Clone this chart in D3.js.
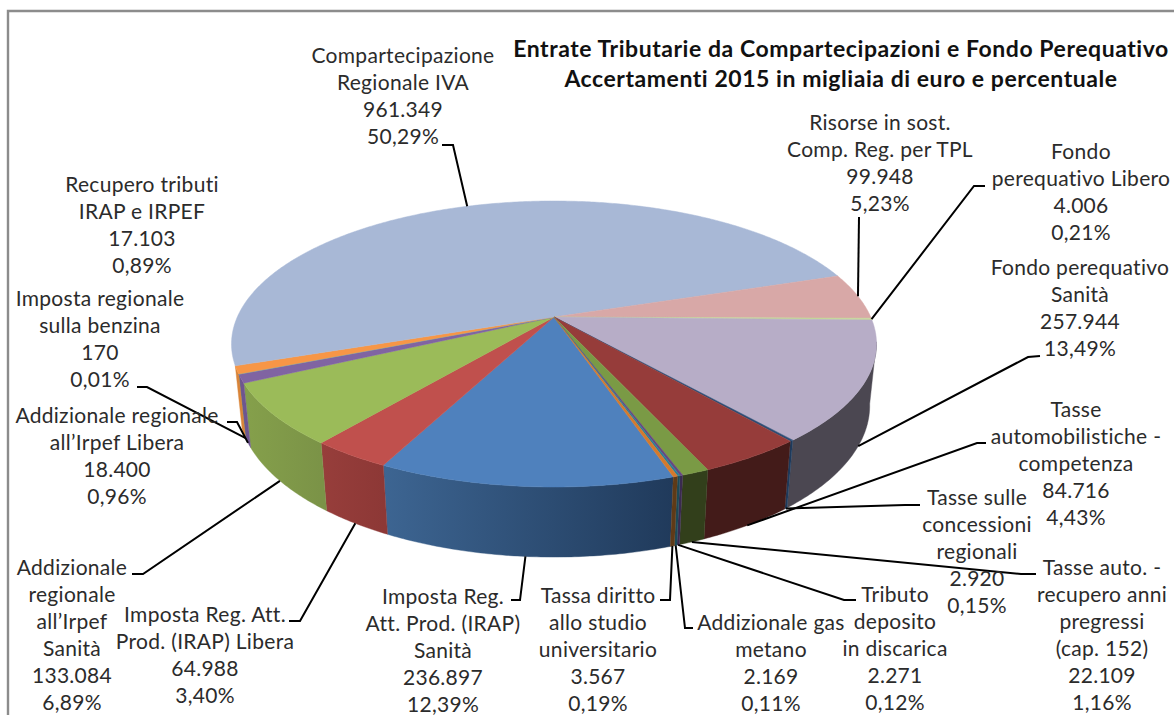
<!DOCTYPE html>
<html>
<head>
<meta charset="utf-8">
<script src="https://cdn.jsdelivr.net/npm/d3@7"></script>
<style>
html, body { margin: 0; padding: 0; background: #fff; overflow: hidden; }
svg { display: block; }
text { font-family: Lato, "Open Sans", sans-serif; }
</style>
</head>
<body>
<div id="chart"></div>
<script>
// slices in drawing order, clockwise from the front of the pie
var categories = [
    ['Imposta Reg.', 'Att. Prod. (IRAP)', 'Sanità'],
    ['Imposta Reg. Att.', 'Prod. (IRAP) Libera'],
    ['Addizionale', 'regionale', 'all’Irpef', 'Sanità'],
    ['Addizionale regionale', 'all’Irpef Libera'],
    ['Imposta regionale', 'sulla benzina'],
    ['Recupero tributi', 'IRAP e IRPEF'],
    ['Compartecipazione', 'Regionale IVA'],
    ['Risorse in sost.', 'Comp. Reg. per TPL'],
    ['Fondo', 'perequativo Libero'],
    ['Fondo perequativo', 'Sanità'],
    ['Tasse sulle', 'concessioni', 'regionali'],
    ['Tasse', 'automobilistiche -', 'competenza'],
    ['Tasse auto. -', 'recupero anni', 'pregressi', '(cap. 152)'],
    ['Tributo', 'deposito', 'in discarica'],
    ['Addizionale gas', 'metano'],
    ['Tassa diritto', 'allo studio', 'universitario']
];
var values = [236897, 64988, 133084, 18400, 170, 17103, 961349, 99948, 4006, 257944, 2920, 84716, 22109, 2271, 2169, 3567];
var valueLabels = ['236.897', '64.988', '133.084', '18.400', '170', '17.103', '961.349', '99.948', '4.006', '257.944', '2.920', '84.716', '22.109', '2.271', '2.169', '3.567'];
var percentLabels = ['12,39%', '3,40%', '6,89%', '0,96%', '0,01%', '0,89%', '50,29%', '5,23%', '0,21%', '13,49%', '0,15%', '4,43%', '1,16%', '0,12%', '0,11%', '0,19%'];
var titleLines = ['Entrate Tributarie da Compartecipazioni e Fondo Perequativo', 'Accertamenti 2015 in migliaia di euro e percentuale'];

var topColors = ['#4f81bd', '#c0504d', '#9bbb59', '#8064a2', '#4bacc6', '#f79646', '#a8b8d6', '#d8a8a7', '#c4d69a', '#b7adc7', '#2c4d75', '#963c3a', '#7a9a45', '#664980', '#2c7d94', '#d4792c'];
var wallLeft = ['#3d6592', '#973e3b', '#85a04b', '#6e5590', '#2c7d94', '#d98438', null, null, null, '#4b4751', '#1d3a5c', '#431b19', '#323f1b', '#3b2a50', '#1b4a58', '#5f3a17'];
var wallRight = ['#203a5b', '#8d3836', '#7b9347', '#6e5590', '#2c7d94', '#d98438', null, null, null, '#4b4751', '#1d3a5c', '#431b19', '#323f1b', '#3b2a50', '#1b4a58', '#5f3a17'];

// label anchor: centre x, baseline of the first line
var labelPos = [
    [443, 604], [205, 622], [72, 575], [117, 423], [100, 306], [142, 192], [403, 63], [880, 130],
    [1081, 159], [1080, 275], [977, 505], [1076, 417], [1102, 575], [895, 602], [771, 630], [598, 603]
];
// leader, from the label towards the elbow; the pie end is worked out from the slice
var leaderStart = [
    [[511, 600], [520, 600]], [[289, 621], [300, 621]], [[132, 574], [143, 574]], [[227, 422], [237, 422]],
    [[137, 387], [147, 387]], null, [[442, 145], [453, 145]], [[859, 217]],
    [[985, 186], [974, 186]], [[1040, 356], [1028, 357]], [[920, 505], [905, 505]], [[986, 443], [977, 443]],
    [[1036, 574], [1021, 574]], [[856, 600], [844, 600]], [[693, 628], [685, 628]], [[660, 600], [670, 600]]
];

var width = 1174, height = 715;
var lineHeight = 27;

// perspective of the pie: u,v on the unit circle, h = 0 top face, h = 1 bottom face
var cx = 554, apexY = 317, radiusX = 316.7, tilt = -0.1888, spreadY = 78.05, depthW = 0.0207, depthY = 68.4;

function project(angle, r, h) {
    var u = r * Math.sin(angle),
        v = -r * Math.cos(angle),
        w = 1 + tilt * v + depthW * h;
    return [cx + radiusX * u / w, (apexY + spreadY * v + depthY * h) / w];
}

function arcAngles(a0, a1) {
    var n = Math.max(2, Math.ceil((a1 - a0) / 0.01));
    return d3.range(n + 1).map(function(i) {
        return a0 + (a1 - a0) * i / n;
    });
}

var svg = d3.select('#chart').append('svg')
    .attr('width', width)
    .attr('height', height);

var defs = svg.append('defs');
var outline = d3.line();

var pie = d3.pie()
    .sort(null)
    .startAngle(162 * Math.PI / 180)
    .endAngle(522 * Math.PI / 180);
var slices = pie(values);

// frame, open on the right and at the bottom
svg.append('path')
    .attr('d', outline([[8, height], [8, 11], [width, 11]]))
    .attr('fill', 'none')
    .attr('stroke', '#8c8c8c')
    .attr('stroke-width', 2.4);

// front walls, only the part of the rim that can be seen
var wallFrom = 100 * Math.PI / 180;

var walls = slices.map(function(d, i) {
    return {
        i: i,
        a0: d.startAngle % (2 * Math.PI),
        a1: d.endAngle % (2 * Math.PI) || 2 * Math.PI
    };
}).map(function(d) {
    if (d.a1 < d.a0) d.a1 += 2 * Math.PI;
    return d;
}).filter(function(d) {
    return wallLeft[d.i] !== null;
}).map(function(d) {
    d.a0 = Math.max(d.a0, wallFrom);
    return d;
});

walls.forEach(function(d) {
    var top = arcAngles(d.a0, d.a1).map(function(a) { return project(a, 1, 0); });
    var bottom = arcAngles(d.a0, d.a1).reverse().map(function(a) { return project(a, 1, 1); });
    var xs = top.map(function(p) { return p[0]; });
    var grad = defs.append('linearGradient')
        .attr('id', 'wall' + d.i)
        .attr('gradientUnits', 'userSpaceOnUse')
        .attr('x1', d3.min(xs)).attr('x2', d3.max(xs))
        .attr('y1', 0).attr('y2', 0);
    grad.append('stop').attr('offset', 0).attr('stop-color', wallLeft[d.i]);
    grad.append('stop').attr('offset', 1).attr('stop-color', wallRight[d.i]);
    svg.append('path')
        .attr('d', outline(top.concat(bottom)) + 'Z')
        .attr('fill', 'url(#wall' + d.i + ')')
        .attr('stroke', 'url(#wall' + d.i + ')')
        .attr('stroke-width', 0.4);
});

// top face
svg.selectAll('path.slice')
    .data(slices)
    .enter().append('path')
    .attr('class', 'slice')
    .attr('d', function(d) {
        var pts = arcAngles(d.startAngle, d.endAngle).map(function(a) { return project(a, 1, 0); });
        return outline([project(0, 0, 0)].concat(pts)) + 'Z';
    })
    .attr('fill', function(d, i) { return topColors[i]; })
    .attr('stroke', function(d, i) { return topColors[i]; })
    .attr('stroke-width', 0.5);

// leader lines
slices.forEach(function(d, i) {
    if (!leaderStart[i]) return;
    var mid = (d.startAngle + d.endAngle) / 2;
    var h = -Math.cos(mid) > 0.1 ? 1 : 0;
    svg.append('path')
        .attr('d', outline(leaderStart[i].concat([project(mid, 1, h)])))
        .attr('fill', 'none')
        .attr('stroke', '#000')
        .attr('stroke-width', 2);
});

// data labels
categories.forEach(function(lines, i) {
    var all = lines.concat([valueLabels[i], percentLabels[i]]);
    var label = svg.append('text')
        .attr('text-anchor', 'middle')
        .attr('fill', '#2b2b2b')
        .style('font-size', '21px')
        .style('letter-spacing', '0.3px');
    all.forEach(function(line, j) {
        label.append('tspan')
            .attr('x', labelPos[i][0])
            .attr('y', labelPos[i][1] + j * lineHeight)
            .text(line);
    });
});

// title
svg.append('text')
    .attr('text-anchor', 'middle')
    .attr('fill', '#111')
    .style('font-size', '23px')
    .style('font-weight', 700)
    .style('letter-spacing', '0.55px')
    .selectAll('tspan')
    .data(titleLines)
    .enter().append('tspan')
    .attr('x', 841)
    .attr('y', function(d, i) { return 57 + i * 30; })
    .text(function(d) { return d; });
</script>
</body>
</html>
